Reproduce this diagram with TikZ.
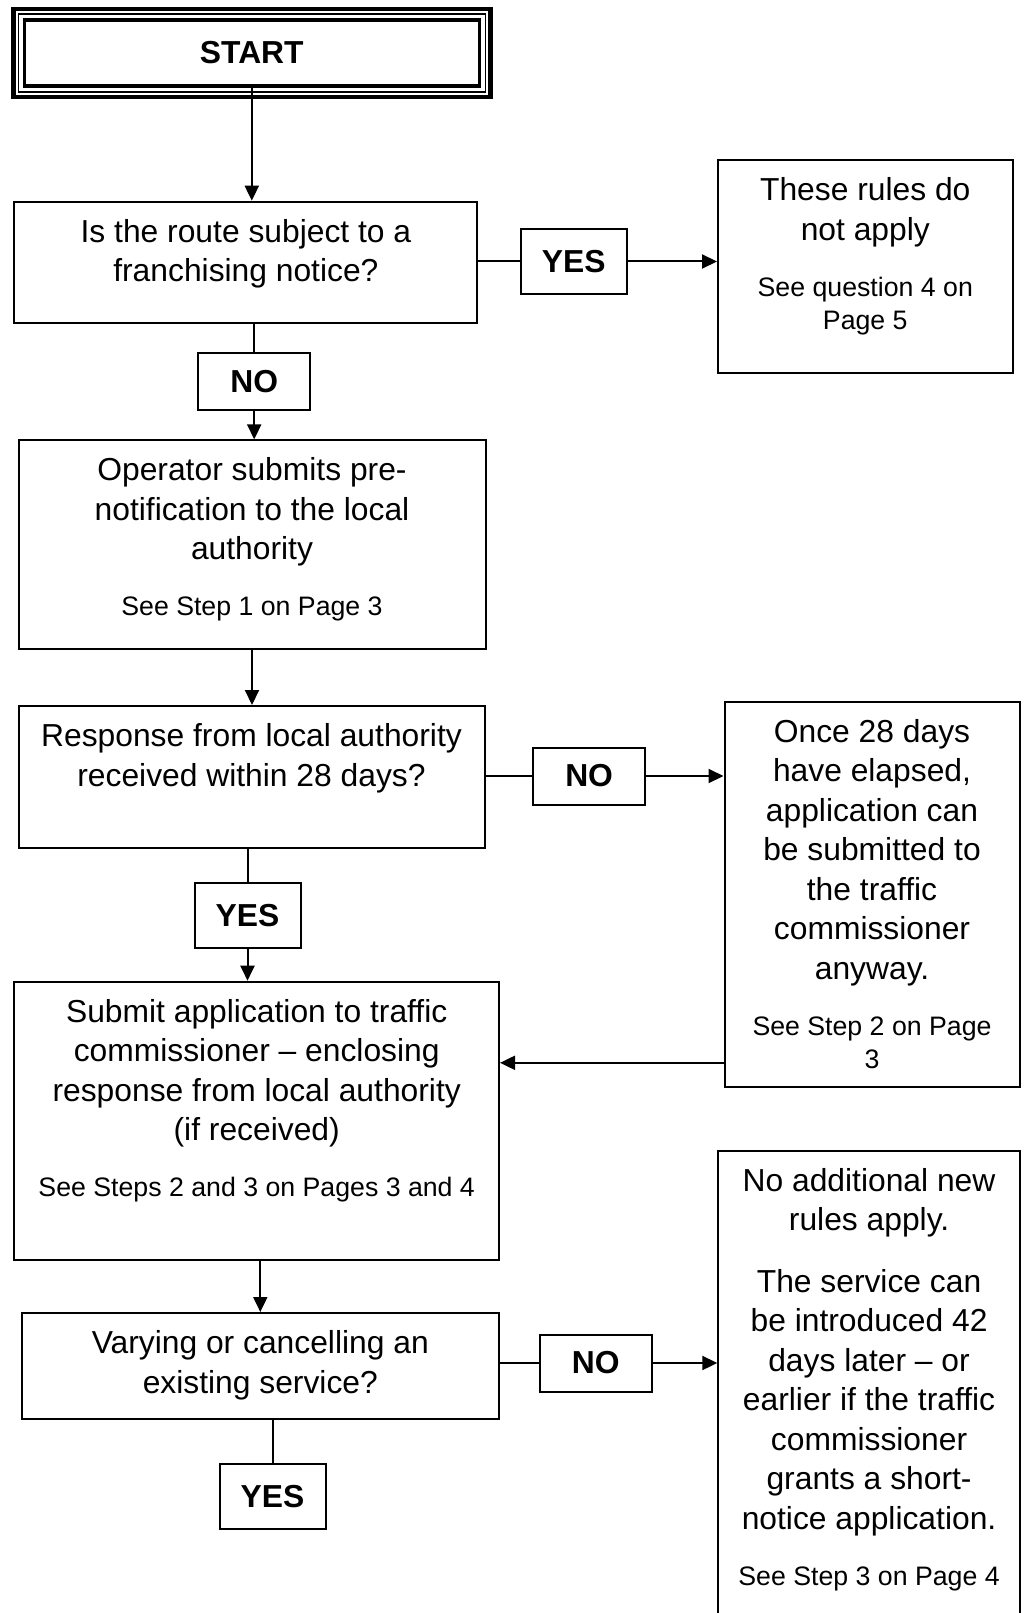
\documentclass[tikz,border=0pt]{standalone}
\usepackage{fontspec}
\setmainfont{Liberation Sans}
\usetikzlibrary{arrows.meta,positioning,calc}

\newcommand{\bigfont}{\fontsize{31.8pt}{39.5pt}\selectfont}
\newcommand{\smallfont}{\fontsize{26.7pt}{33pt}\selectfont}
\newcommand{\boxtext}[3]{\parbox[c][#2][t]{#1}{\centering\bigfont\rule{0pt}{40.5pt}#3\par}}
\newcommand{\seestep}[1]{\par\vspace{23pt}\smallfont #1}

\begin{document}
\begin{tikzpicture}[x=1pt, y=-1pt, line join=miter,
  box/.style={draw, line width=2pt, inner sep=0pt, anchor=north west},
  answer/.style={draw, line width=2pt, inner sep=0pt, font=\fontsize{31.8pt}{38pt}\selectfont\bfseries},
  yesbox/.style={answer, minimum width=106pt, minimum height=65pt},
  nobox/.style={answer, minimum width=112pt, minimum height=57pt},
  link/.style={line width=2pt},
  arr/.style={line width=2pt, -{Triangle[length=15pt,width=14pt]}}]
\useasboundingbox (0,0) rectangle (1026,1613);
\clip (0,0) rectangle (1026,1613);
\node[draw, line width=3.5pt, outer sep=0pt, inner sep=0pt, minimum width=455pt, minimum height=66pt,
  font=\fontsize{31.8pt}{38pt}\selectfont\bfseries] (start) at (251.8,53) {START};
\draw[line width=1.5pt] ([shift={(-6pt,6pt)}]start.north west) rectangle ([shift={(6pt,-6pt)}]start.south east);
\draw[line width=4.5pt] ([shift={(-11pt,11pt)}]start.north west) rectangle ([shift={(11pt,-11pt)}]start.south east);
\node[box] (q1) at (13.4,200.7) {\boxtext{463pt}{121.5pt}{Is the route subject to a\\franchising notice?}};
\node[box] (r1) at (717,159.5) {\boxtext{294.6pt}{212pt}{These rules do\\not apply\seestep{See question 4 on\\Page 5}}};
\node[box] (b2) at (17.5,439.4) {\boxtext{467pt}{209pt}{Operator submits pre-\\notification to the local\\authority\seestep{See Step 1 on Page 3}}};
\node[box] (b3) at (17.5,705) {\boxtext{466pt}{142pt}{Response from local authority\\received within 28 days?}};
\node[box] (r2) at (723.5,700.8) {\boxtext{295pt}{385pt}{Once 28 days\\have elapsed,\\application can\\be submitted to\\the traffic\\commissioner\\anyway.\seestep{See Step 2 on Page\\3}}};
\node[box] (b4) at (13.4,980.7) {\boxtext{484.6pt}{278pt}{Submit application to traffic\\commissioner – enclosing\\response from local authority\\(if received)\seestep{See Steps 2 and 3 on Pages 3 and 4}}};
\node[box] (b5) at (20.6,1312) {\boxtext{477.4pt}{106pt}{Varying or cancelling an\\existing service?}};
\node[box] (r3) at (717.3,1149.5) {\boxtext{301.5pt}{500pt}{No additional new\\rules apply.\par\vspace{22pt}The service can\\be introduced 42\\days later – or\\earlier if the traffic\\commissioner\\grants a short-\\notice application.\seestep{See Step 3 on Page 4}}};
\node[yesbox] (yes1) at (573.7,261.5) {YES};
\node[nobox] (no1) at (254.2,381.3) {NO};
\node[nobox] (no2) at (589.1,776) {NO};
\node[yesbox] (yes2) at (247.5,915.4) {YES};
\node[nobox] (no3) at (595.7,1363) {NO};
\node[yesbox] (yes3) at (272.5,1496.8) {YES};
\draw[arr] (start.south) -- (start.south |- q1.north);
\draw[link] (q1.east |- yes1.west) -- (yes1.west);
\draw[arr] (yes1.east) -- (yes1.east -| r1.west);
\draw[link] (no1.north |- q1.south) -- (no1.north);
\draw[arr] (no1.south) -- (no1.south |- b2.north);
\draw[arr] (b2.south) -- (b2.south |- b3.north);
\draw[link] (b3.east |- no2.west) -- (no2.west);
\draw[arr] (no2.east) -- (no2.east -| r2.west);
\draw[link] (yes2.north |- b3.south) -- (yes2.north);
\draw[arr] (yes2.south) -- (yes2.south |- b4.north);
\coordinate (back) at ([yshift=25pt]r2.south west);
\draw[arr] (back) -- (back -| b4.east);
\draw[arr] (b5.north |- b4.south) -- (b5.north);
\draw[link] (b5.east |- no3.west) -- (no3.west);
\draw[arr] (no3.east) -- (no3.east -| r3.west);
\draw[link] (yes3.north |- b5.south) -- (yes3.north);
\end{tikzpicture}
\end{document}
